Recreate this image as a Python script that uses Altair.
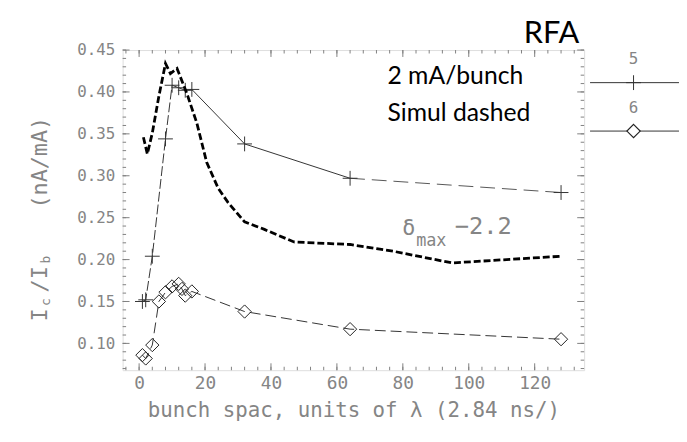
import altair as alt
import pandas as pd
import numpy as np

# ---- data ----
cross_x = [1, 2, 4, 8, 10, 12, 14, 16, 32, 64, 128]
cross_y = [0.150, 0.152, 0.204, 0.344, 0.408, 0.405, 0.402, 0.403, 0.338, 0.297, 0.280]

diamond_x = [1, 2, 4, 6, 8, 10, 12, 13, 14, 16, 32, 64, 128]
diamond_y = [0.086, 0.082, 0.098, 0.150, 0.161, 0.168, 0.171, 0.165, 0.157, 0.162, 0.138, 0.117, 0.105]

sim_x = [1.3, 2.5, 4, 6, 8, 9.5, 11.5, 14.5, 17.5, 20.5, 24, 27, 32, 38, 47, 64, 72, 77, 95, 128]
sim_y = [0.346, 0.326, 0.351, 0.395, 0.434, 0.422, 0.428, 0.398, 0.363, 0.316, 0.285, 0.268,
         0.245, 0.236, 0.221, 0.218, 0.213, 0.210, 0.196, 0.204]

x_major = [0, 20, 40, 60, 80, 100, 120]
y_major = [0.10, 0.15, 0.20, 0.25, 0.30, 0.35, 0.40, 0.45]
x_minor = list(range(-4, 133, 4))
y_minor = [round(v, 2) for v in np.arange(0.07, 0.4501, 0.01)]

x_title = "bunch spac, units of λ (2.84 ns/)"
legend_labels = ["5", "6"]

W, H = 467, 324
GRAY = "#858585"
MONO = "DejaVu Sans Mono"

xscale = alt.Scale(domain=[-5, 135], nice=False, zero=False)
yscale = alt.Scale(domain=[0.068, 0.45], nice=False, zero=False)
xaxis = alt.Axis(values=x_major, title=x_title, ticks=False, domain=False, grid=False,
                 labelFont=MONO, labelFontSize=18, labelColor=GRAY, labelPadding=5,
                 titleFont=MONO, titleFontSize=21, titleFontWeight="normal",
                 titleColor=GRAY, titlePadding=7, labelFlush=False)
yaxis = alt.Axis(values=y_major, format=".2f", title="", ticks=False, domain=False, grid=False,
                 labelFont=MONO, labelFontSize=16, labelColor=GRAY, labelPadding=8)


def X(f):
    return alt.X(f, type="quantitative", scale=xscale, axis=xaxis)


def Y(f):
    return alt.Y(f, type="quantitative", scale=yscale, axis=yaxis)


cross = pd.DataFrame({"x": cross_x, "y": cross_y})
diam = pd.DataFrame({"x": diamond_x, "y": diamond_y})
sim = pd.DataFrame({"x": sim_x, "y": sim_y})

segA = cross[cross.x <= 12]
segB = cross[(cross.x >= 12) & (cross.x <= 64)]
segC = cross[cross.x >= 64]

CROSS = "M-1,0L1,0M0,-1L0,1"
DIAMOND = "M0,-1L1,0L0,1L-1,0Z"

layers = []
layers.append(alt.Chart(segA).mark_line(color="#333", strokeWidth=1, strokeDash=[10, 3]).encode(x=X("x"), y=Y("y")))
layers.append(alt.Chart(segB).mark_line(color="#333", strokeWidth=1).encode(x=X("x"), y=Y("y")))
layers.append(alt.Chart(segC).mark_line(color="#555", strokeWidth=1, strokeDash=[15, 7]).encode(x=X("x"), y=Y("y")))
layers.append(alt.Chart(cross).mark_point(shape=CROSS, filled=False, size=225, color="#333",
                                          strokeWidth=1, opacity=1).encode(x=X("x"), y=Y("y")))
layers.append(alt.Chart(diam).mark_line(color="#333", strokeWidth=1, strokeDash=[11, 5]).encode(x=X("x"), y=Y("y")))
layers.append(alt.Chart(diam).mark_point(shape=DIAMOND, filled=False, size=180, color="#222",
                                         strokeWidth=1, opacity=1).encode(x=X("x"), y=Y("y")))
layers.append(alt.Chart(sim).mark_line(color="#000", strokeWidth=2.8, strokeDash=[7, 3]).encode(x=X("x"), y=Y("y")))

# ---- inward ticks on all four sides ----
xmaj = pd.DataFrame({"t": x_major})
xmin = pd.DataFrame({"t": x_minor})
ymaj = pd.DataFrame({"t": y_major})
ymin = pd.DataFrame({"t": y_minor})
TK = "#808080"
for df, L in ((xmaj, 7), (xmin, 3.5)):
    layers.append(alt.Chart(df).mark_rule(color=TK, strokeWidth=1).encode(x=X("t"), y=alt.value(H), y2=alt.value(H - L)))
    layers.append(alt.Chart(df).mark_rule(color=TK, strokeWidth=1).encode(x=X("t"), y=alt.value(0), y2=alt.value(L)))
for df, L in ((ymaj, 7), (ymin, 3.5)):
    layers.append(alt.Chart(df).mark_rule(color=TK, strokeWidth=1).encode(y=Y("t"), x=alt.value(0), x2=alt.value(L)))
    layers.append(alt.Chart(df).mark_rule(color=TK, strokeWidth=1).encode(y=Y("t"), x=alt.value(W), x2=alt.value(W - L)))

one = pd.DataFrame({"k": [0]})


def txt(s, x, y, size, font=MONO, color=GRAY, align="left", angle=0, weight="normal"):
    return alt.Chart(one).mark_text(text=s, font=font, fontSize=size, color=color, align=align,
                                    baseline="middle", angle=angle, fontWeight=weight).encode(
        x=alt.value(x), y=alt.value(y))


# annotations
layers.append(txt("RFA", 434, -16, 31, font="Lato", color="#000", align="center"))
layers.append(txt("2 mA/bunch", 268, 26, 25, font="Lato", color="#000"))
layers.append(txt("Simul dashed", 268, 64, 25, font="Lato", color="#000"))
layers.append(txt("δ", 283, 180, 22))
layers.append(txt("max", 297, 193, 17))
layers.append(txt("−2.2", 336, 179, 24))

# y title pieces (rotated)
layers.append(txt("I", -84, 268, 22, align="center", angle=270))
layers.append(txt("c", -77, 255, 13, align="center", angle=270))
layers.append(txt("/I", -84, 232, 22, align="center", angle=270))
layers.append(txt("b", -77, 212, 13, align="center", angle=270))
layers.append(txt("(nA/mA)", -84, 114, 22, align="center", angle=270))

# legend at right
layers.append(txt(legend_labels[0], 517, 9, 16, align="center"))
layers.append(txt(legend_labels[1], 517, 59, 16, align="center"))
layers.append(alt.Chart(one).mark_rule(color="#333", strokeWidth=1).encode(x=alt.value(473), x2=alt.value(563), y=alt.value(33)))
layers.append(alt.Chart(one).mark_rule(color="#333", strokeWidth=1).encode(x=alt.value(473), x2=alt.value(563), y=alt.value(82)))
layers.append(alt.Chart(one).mark_point(shape=CROSS, filled=False, size=225, color="#333", strokeWidth=1, opacity=1).encode(
    x=alt.value(517), y=alt.value(33)))
layers.append(alt.Chart(one).mark_point(shape=DIAMOND, filled=False, size=180, color="#222", strokeWidth=1.2, opacity=1, fill="white").encode(
    x=alt.value(517), y=alt.value(82)))

chart = alt.layer(*layers).properties(
    width=W, height=H,
    autosize=alt.AutoSizeParams(type="none"),
    padding={"left": 116, "top": 40, "right": 96, "bottom": 62},
).configure_view(stroke="#808080", strokeWidth=1.5).configure(background="white")

chart.save("out.html", embed_options={"renderer": "svg", "actions": False})
